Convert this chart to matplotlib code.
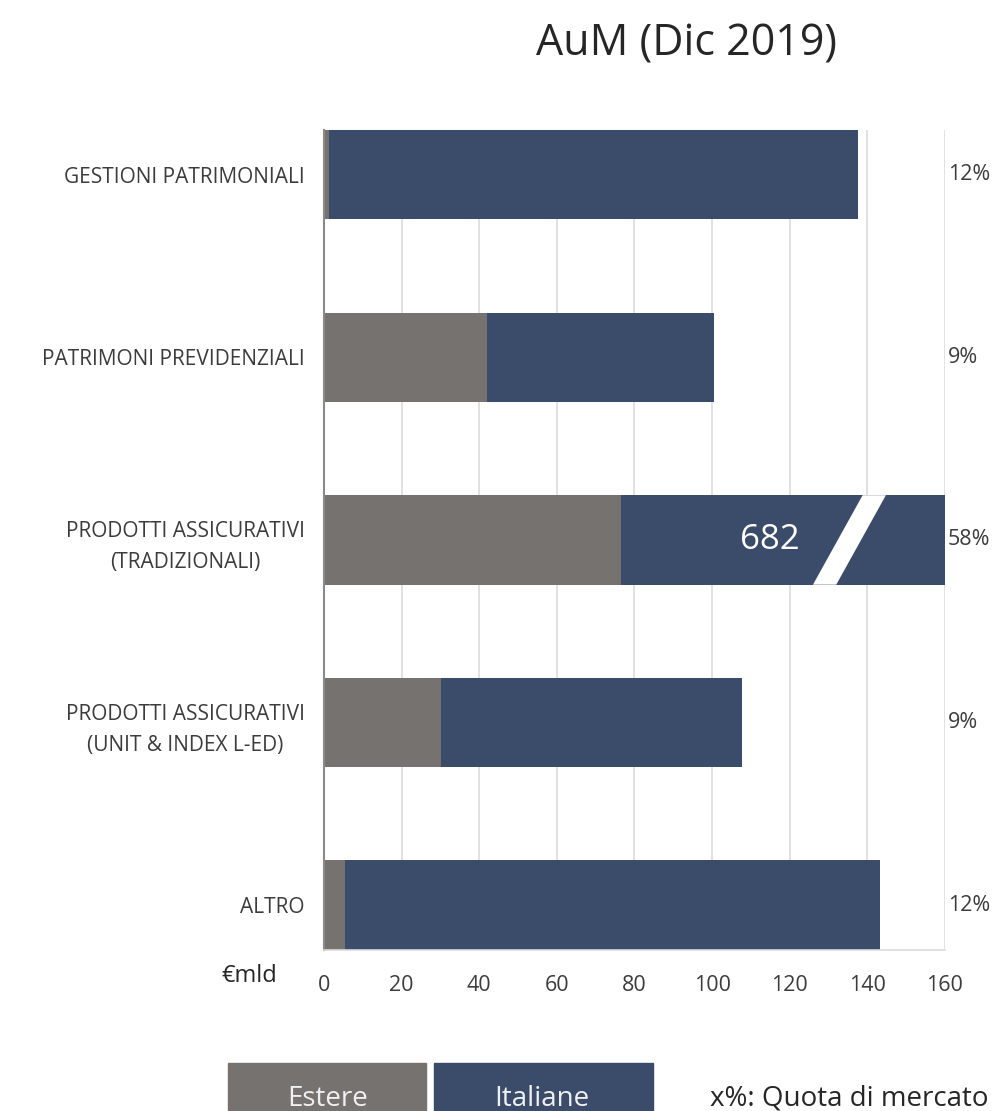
import numpy as np
import matplotlib.pyplot as plt

# AuM dicembre 2019, €mld
categorie = [
    "GESTIONI PATRIMONIALI",
    "PATRIMONI PREVIDENZIALI",
    "PRODOTTI ASSICURATIVI\n(TRADIZIONALI)",
    "PRODOTTI ASSICURATIVI\n(UNIT & INDEX L-ED)",
    "ALTRO",
]
estere = [1.3, 42.0, 76.6, 30.2, 5.4]
totale = [137.5, 100.6, 682.0, 107.6, 143.2]
quota = ["12%", "9%", "58%", "9%", "12%"]
xticks = [0, 20, 40, 60, 80, 100, 120, 140, 160]

italiane = [t - e for t, e in zip(totale, estere)]

GRIGIO = "#767270"
BLU = "#3a4c69"
TESTO = "#3c3c3c"

plt.rcParams["font.family"] = ["Open Sans", "DejaVu Sans"]

fig = plt.figure(figsize=(10.08, 11.11), dpi=100)
ax = fig.add_axes([0.3214, 0.145, 0.616, 0.738])

y = np.arange(len(categorie))
h = 0.49
ax.barh(y, estere, height=h, color=GRIGIO, zorder=2)
ax.barh(y, italiane, left=estere, height=h, color=BLU, zorder=2)

ax.set_xlim(0, 160)
ax.set_ylim(len(categorie) - 1 + 0.245, -0.245)
ax.set_xticks(xticks)
ax.set_xticklabels([str(v) for v in xticks], fontsize=15.5, color=TESTO)
ax.set_yticks(y)
ax.set_yticklabels(categorie, fontsize=15, color=TESTO, multialignment="center",
                   linespacing=1.6)
ax.tick_params(axis="x", length=0, pad=18)
ax.tick_params(axis="y", length=0, pad=14)
ax.grid(axis="x", color="#dcdcdc", linewidth=1.2, zorder=0)

for s in ["top", "right"]:
    ax.spines[s].set_visible(False)
ax.spines["left"].set_color("#8a8a8a")
ax.spines["left"].set_linewidth(1.5)
ax.spines["bottom"].set_color("#dcdcdc")
ax.spines["bottom"].set_linewidth(1.2)

# interruzione della barra fuori scala
i_big = int(np.argmax(totale))
b0, w = 126.0, 6.0
yb, yt = i_big + h / 2, i_big - h / 2
ax.fill([b0, b0 + w, b0 + w + 12.8, b0 + 12.8], [yb, yb, yt, yt],
        color="white", zorder=3, linewidth=0)
ax.text(115, i_big, f"{totale[i_big]:.0f}", color="white", fontsize=25,
        ha="center", va="center", zorder=4)

# quote di mercato
for yi, q in zip(y, quota):
    ax.text(1.005, yi, q, transform=ax.get_yaxis_transform(), fontsize=15.5,
            color=TESTO, ha="left", va="center")

fig.text(0.681, 0.960, "AuM (Dic 2019)", fontsize=31, color="#262626",
         ha="center", va="center")
fig.text(0.247, 0.1215, "€mld", fontsize=17, color="#262626", ha="center",
         va="center")

# legenda
fig.patches.append(plt.Rectangle((0.226, 0.0), 0.197, 0.0432,
                                 transform=fig.transFigure, color=GRIGIO))
fig.patches.append(plt.Rectangle((0.4306, 0.0), 0.2173, 0.0432,
                                 transform=fig.transFigure, color=BLU))
fig.text(0.325, 0.011, "Estere", fontsize=20, color="#f0f0f0", ha="center",
         va="center")
fig.text(0.538, 0.011, "Italiane", fontsize=20, color="#f0f0f0", ha="center",
         va="center")
fig.text(0.704, 0.011, "x%: Quota di mercato", fontsize=20, color="#262626",
         ha="left", va="center")

fig.savefig("out.png", dpi=100)
